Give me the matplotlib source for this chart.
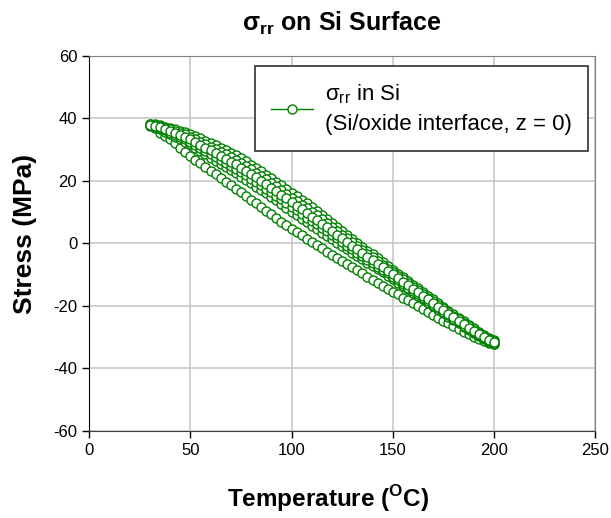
import matplotlib
matplotlib.use("Agg")
import matplotlib.pyplot as plt

plt.rcParams['font.family'] = ['Liberation Sans', 'DejaVu Sans']
plt.rcParams['mathtext.fontset'] = 'custom'
plt.rcParams['mathtext.rm'] = 'Liberation Sans'
plt.rcParams['axes.unicode_minus'] = False

# temperature grid of the logged points (deg C)
temps = [30, 32.5, 35, 37.5, 40, 42.5, 45, 47.5, 50, 52.5, 55, 57.5, 60, 62.5, 65, 67.5,
         70, 72.5, 75, 77.5, 80, 82.5, 85, 87.5, 90, 92.5, 95, 97.5, 100, 102.5, 105, 107.5,
         110, 112.5, 115, 117.5, 120, 122.5, 125, 127.5, 130, 132.5, 135, 137.5, 140, 142.5,
         145, 147.5, 150, 152.5, 155, 157.5, 160, 162.5, 165, 167.5, 170, 172.5, 175, 177.5,
         180, 182.5, 185, 187.5, 190, 192.5, 195, 197.5, 200]

# upper branch, overlapping cycles (MPa)
upper_1 = [38.3, 38.1, 37.8, 37.4, 37.0, 36.6, 36.1, 35.6, 34.9, 34.3, 33.6, 32.9, 32.1, 31.4,
           30.6, 29.8, 29.0, 28.2, 27.3, 26.3, 25.2, 24.2, 23.1, 22.0, 20.9, 19.8, 18.6, 17.4,
           16.2, 15.1, 13.9, 12.8, 11.6, 10.4, 9.1, 7.9, 6.6, 5.3, 4.0, 2.8, 1.5, 0.2, -1.0,
           -2.3, -3.5, -4.8, -6.0, -7.3, -8.4, -9.7, -10.8, -12.1, -13.2, -14.4, -15.5, -16.8,
           -17.9, -19.2, -20.3, -21.5, -22.7, -23.8, -24.9, -26.1, -27.2, -28.3, -29.3, -30.2,
           -30.9]
upper_2 = [38.2, 37.9, 37.5, 37.0, 36.5, 36.0, 35.5, 34.9, 34.1, 33.4, 32.6, 31.8, 31.0, 30.2,
           29.3, 28.5, 27.6, 26.8, 25.8, 24.8, 23.7, 22.7, 21.6, 20.5, 19.4, 18.3, 17.1, 15.9,
           14.7, 13.6, 12.4, 11.3, 10.1, 9.0, 7.7, 6.6, 5.3, 4.1, 2.8, 1.7, 0.4, -0.9, -2.0,
           -3.3, -4.4, -5.7, -6.8, -8.1, -9.2, -10.4, -11.5, -12.8, -13.9, -15.0, -16.1, -17.4,
           -18.5, -19.7, -20.8, -22.0, -23.2, -24.3, -25.4, -26.5, -27.6, -28.7, -29.7, -30.5,
           -31.2]
upper_3 = [38.0, 37.6, 37.2, 36.6, 36.0, 35.4, 34.8, 34.1, 33.3, 32.5, 31.6, 30.7, 29.8, 28.9,
           28.0, 27.1, 26.2, 25.3, 24.3, 23.3, 22.2, 21.2, 20.1, 19.0, 17.9, 16.8, 15.6, 14.4,
           13.2, 12.1, 10.9, 9.8, 8.6, 7.5, 6.3, 5.2, 4.0, 2.8, 1.6, 0.5, -0.7, -1.9, -3.0,
           -4.2, -5.3, -6.5, -7.6, -8.8, -9.9, -11.1, -12.2, -13.4, -14.5, -15.6, -16.7, -17.9,
           -19.0, -20.2, -21.3, -22.5, -23.6, -24.7, -25.8, -26.9, -28.0, -29.0, -30.0, -30.8,
           -31.5]
upper_4 = [37.9, 37.4, 36.9, 36.2, 35.5, 34.8, 34.2, 33.4, 32.5, 31.6, 30.6, 29.6, 28.7, 27.7,
           26.7, 25.8, 24.8, 23.9, 22.8, 21.8, 20.7, 19.7, 18.6, 17.5, 16.4, 15.3, 14.1, 12.9,
           11.7, 10.6, 9.4, 8.3, 7.1, 6.1, 4.9, 3.9, 2.7, 1.6, 0.4, -0.7, -1.8, -3.0, -4.0,
           -5.2, -6.2, -7.4, -8.4, -9.6, -10.7, -11.8, -12.9, -14.1, -15.2, -16.2, -17.3, -18.5,
           -19.6, -20.7, -21.8, -23.0, -24.1, -25.2, -26.3, -27.3, -28.4, -29.4, -30.4, -31.1,
           -31.8]
upper_5 = [37.7, 37.1, 36.6, 35.8, 35.0, 34.2, 33.5, 32.6, 31.7, 30.7, 29.6, 28.5, 27.5, 26.4,
           25.4, 24.4, 23.4, 22.4, 21.3, 20.3, 19.2, 18.2, 17.1, 16.0, 14.9, 13.8, 12.6, 11.4,
           10.2, 9.1, 7.9, 6.8, 5.6, 4.6, 3.5, 2.5, 1.4, 0.3, -0.8, -1.8, -2.9, -4.0, -5.0,
           -6.1, -7.1, -8.2, -9.2, -10.3, -11.4, -12.5, -13.6, -14.7, -15.8, -16.8, -17.9, -19.0,
           -20.1, -21.2, -22.3, -23.5, -24.5, -25.6, -26.7, -27.7, -28.8, -29.7, -30.7, -31.4,
           -32.1]

# lower branch (starts at 35 C)
lower = [35.4, 34.4, 33.4, 32.0, 30.5, 29.2, 28.0, 26.8, 25.6, 24.4, 23.3, 22.1, 21.0, 19.8,
         18.7, 17.5, 16.4, 15.2, 14.0, 12.8, 11.7, 10.5, 9.3, 8.1, 7.0, 5.8, 4.7, 3.6, 2.6,
         1.5, 0.5, -0.6, -1.6, -2.6, -3.6, -4.6, -5.6, -6.6, -7.6, -8.6, -9.6, -10.6, -11.6,
         -12.6, -13.6, -14.5, -15.4, -16.3, -17.3, -18.2, -19.1, -20.0, -21.0, -21.9, -22.9,
         -23.8, -24.7, -25.6, -26.5, -27.3, -28.2, -29.0, -29.9, -30.6, -31.3, -31.8, -32.3]

green = '#008000'
style = dict(color=green, lw=1, marker='o', ms=6.5, mfc='white', mec=green, mew=1)

fig = plt.figure(figsize=(6.11, 5.18), dpi=100)
ax = fig.add_axes([0.1457, 0.168, 0.8285, 0.724])

ax.plot(temps[2:], lower, **style)
for cyc in (upper_5, upper_1, upper_4, upper_2):
    ax.plot(temps, cyc, **style)
ax.plot(temps, upper_3, label='σ$_\\mathregular{rr}$ in Si\n(Si/oxide interface, z = 0)', **style)

ax.set_xlim(0, 250)
ax.set_ylim(-60, 60)
ax.set_xticks([0, 50, 100, 150, 200, 250])
ax.set_yticks([-60, -40, -20, 0, 20, 40, 60])
ax.grid(True, color='#c8c8c8', lw=1.2)
ax.set_axisbelow(True)
ax.tick_params(direction='out', length=5, width=1, labelsize=12, colors='black')
ax.spines['left'].set_color('black')
ax.spines['bottom'].set_color('#404040')
ax.spines['top'].set_color('#808080')
ax.spines['right'].set_color('#808080')

ax.set_title('σ$_\\mathregular{rr}$ on Si Surface', fontsize=18, fontweight='bold', pad=18)
ax.set_xlabel('Temperature ($^\\mathregular{O}$C)', fontsize=17.5, fontweight='bold')
ax.set_ylabel('Stress (MPa)', fontsize=19, fontweight='bold')
ax.xaxis.set_label_coords(0.472, -0.138)
ax.yaxis.set_label_coords(-0.103, 0.525)

leg = ax.legend(loc='upper right', bbox_to_anchor=(0.986, 0.973), borderaxespad=0,
                fontsize=16, fancybox=False, framealpha=1, handlelength=1.9,
                borderpad=0.75, handletextpad=0.5)
leg.get_texts()[0].set_linespacing(1.45)
leg.get_frame().set_edgecolor('#303030')
leg.get_frame().set_linewidth(1.2)

fig.savefig('out.png', dpi=100)
